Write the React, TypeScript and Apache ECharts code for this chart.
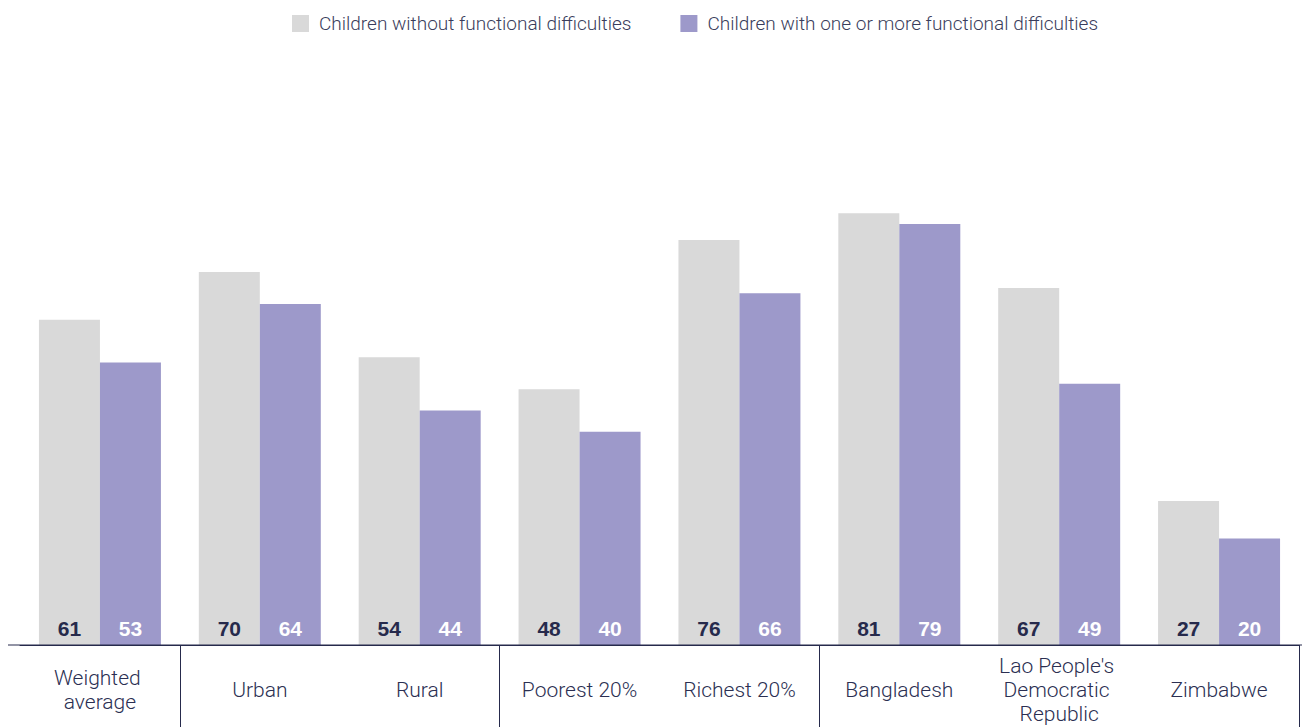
import React, { useEffect, useRef } from "react";
import * as echarts from "echarts";

const categories = [
  "Weighted average",
  "Urban",
  "Rural",
  "Poorest 20%",
  "Richest 20%",
  "Bangladesh",
  "Lao People's Democratic Republic",
  "Zimbabwe",
];
const withoutDifficulties = [61, 70, 54, 48, 76, 81, 67, 27];
const withDifficulties = [53, 64, 44, 40, 66, 79, 49, 20];
const seriesNames = [
  "Children without functional difficulties",
  "Children with one or more functional difficulties",
];

const NAVY = "#262a4c";
const GREY = "#d9d9d9";
const PURPLE = "#9d99ca";
const FONT = "Roboto, 'Liberation Sans', Arial, sans-serif";

export default function App() {
  const ref = useRef<HTMLDivElement>(null);
  useEffect(() => {
    if (!ref.current) return;
    const chart = echarts.init(ref.current, undefined, { renderer: "svg" });
    const labelBase = {
      show: true,
      position: "insideBottom" as const,
      distance: 6,
      fontSize: 21,
      fontWeight: "bold" as const,
      fontFamily: "'Liberation Sans', Arial, sans-serif",
    };
    chart.setOption({
      animation: false,
      textStyle: { fontFamily: FONT },
      legend: {
        left: 292,
        top: 14,
        padding: 0,
        itemWidth: 17,
        itemHeight: 17,
        itemGap: 49,
        icon: "rect",
        textStyle: {
          fontSize: 19,
          color: "#3a3d5c",
          fontWeight: 300,
          fontFamily: FONT,
          padding: [0, 0, 0, 5],
        },
        data: seriesNames,
      },
      grid: { left: 20, right: 3, top: 112, bottom: 82, containLabel: false },
      xAxis: {
        type: "category",
        data: categories,
        axisLine: { show: true, lineStyle: { color: NAVY, width: 1 } },
        axisTick: {
          show: true,
          length: 82,
          lineStyle: { color: NAVY, width: 1 },
          interval: (index: number) => index === 1 || index === 3 || index === 5,
        },
        axisLabel: {
          interval: 0,
          margin: 45,
          verticalAlign: "middle",
          fontSize: 21,
          lineHeight: 24,
          color: "#2b2f52",
          fontWeight: 300,
          fontFamily: FONT,
          width: 145,
          overflow: "break",
        },
      },
      yAxis: {
        type: "value",
        min: 0,
        max: 100,
        show: false,
        splitLine: { show: false },
      },
      graphic: [
        {
          type: "line",
          shape: { x1: 8, y1: 645, x2: 1302, y2: 645 },
          style: { stroke: NAVY, lineWidth: 1 },
          z: 10,
        },
      ],
      series: [
        {
          name: seriesNames[0],
          type: "bar",
          data: withoutDifficulties,
          itemStyle: { color: GREY },
          barGap: "0%",
          barCategoryGap: "23.7%",
          label: { ...labelBase, color: NAVY },
        },
        {
          name: seriesNames[1],
          type: "bar",
          data: withDifficulties,
          itemStyle: { color: PURPLE },
          barGap: "0%",
          barCategoryGap: "23.7%",
          label: { ...labelBase, color: "#ffffff" },
        },
      ],
    });
    return () => chart.dispose();
  }, []);
  return (
    <div
      ref={ref}
      style={{ position: "fixed", left: 0, top: 0, width: 1302, height: 727, background: "#fff" }}
    />
  );
}
